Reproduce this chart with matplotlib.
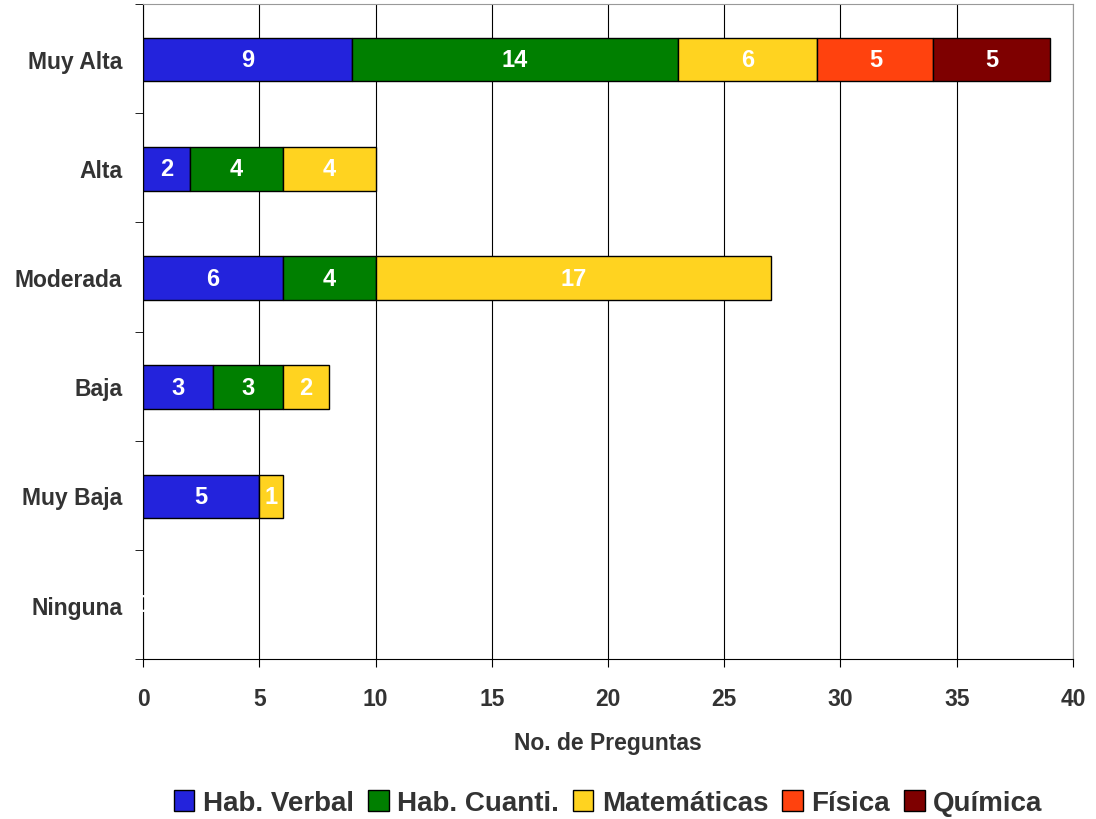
import numpy as np
import matplotlib
matplotlib.use("Agg")
from matplotlib import pyplot as plt
from matplotlib.ticker import MultipleLocator

plt.rcParams['font.family'] = ['Liberation Sans', 'DejaVu Sans']

categories = ['Muy Alta', 'Alta', 'Moderada', 'Baja', 'Muy Baja', 'Ninguna']
series = ['Hab. Verbal', 'Hab. Cuanti.', 'Matemáticas', 'Física', 'Química']
hab_verbal = [9, 2, 6, 3, 5, 0]
hab_cuanti = [14, 4, 4, 3, 0, 0]
matematicas = [6, 4, 17, 2, 1, 0]
fisica = [5, 0, 0, 0, 0, 0]
quimica = [5, 0, 0, 0, 0, 0]
colors = ['#2323DC', '#007F00', '#FFD320', '#FF420E', '#7E0000']

values = [hab_verbal, hab_cuanti, matematicas, fisica, quimica]
txt = '#333333'

fig = plt.figure(figsize=(10.96, 8.2), dpi=100)
ax = fig.add_axes([0.1305, 0.195, 0.8485, 0.799])

y = np.arange(len(categories))
left = np.zeros(len(categories))
for name, vals, col in zip(series, values, colors):
    vals = np.array(vals, dtype=float)
    nz = vals > 0
    ax.barh(y[nz] + 0.01, vals[nz], left=left[nz], height=0.4, color=col,
            edgecolor='black', linewidth=1, label=name, zorder=3)
    for yi, (l, v) in enumerate(zip(left, vals)):
        if v > 0:
            ax.text(l + v / 2, yi + 0.01, f'{int(v)}', ha='center', va='center',
                    color='white', fontsize=17, fontweight='bold', zorder=4)
    left += vals

# white zero label on the empty row
ax.text(0, categories.index('Ninguna'), '0', ha='center', va='center',
        color='white', fontsize=17, fontweight='bold', zorder=4)

ax.set_xlim(0, 40)
ax.set_ylim(len(categories) - 0.5, -0.5)
ax.xaxis.set_major_locator(MultipleLocator(5))
ax.grid(axis='x', color='black', linewidth=0.8, zorder=0)
ax.set_yticks(y)
ax.set_yticklabels(categories)
ax.set_yticks(np.arange(-0.5, len(categories)), minor=True)
ax.tick_params(axis='y', which='major', length=0, pad=15)
ax.tick_params(axis='y', which='minor', length=6, direction='out', color='black')
ax.tick_params(axis='x', length=6, direction='out', pad=14)
for lab in ax.get_yticklabels() + ax.get_xticklabels():
    lab.set_fontweight('bold')
    lab.set_fontsize(16.5)
    lab.set_color(txt)

ax.spines['top'].set_color('#999999')
ax.spines['right'].set_color('#999999')
ax.spines['left'].set_color('black')
ax.spines['bottom'].set_color('black')
for s in ax.spines.values():
    s.set_zorder(2)

ax.set_xlabel('No. de Preguntas', fontsize=16.5, fontweight='bold', color=txt, labelpad=15)

leg = ax.legend(loc='center', bbox_to_anchor=(0.5, -0.22), ncol=5, frameon=False,
                handlelength=0.75, handleheight=0.75, handletextpad=0.3, columnspacing=0.5,
                prop={'size': 20, 'weight': 'bold'})
for t in leg.get_texts():
    t.set_color(txt)

fig.savefig('out.png', dpi=100)
